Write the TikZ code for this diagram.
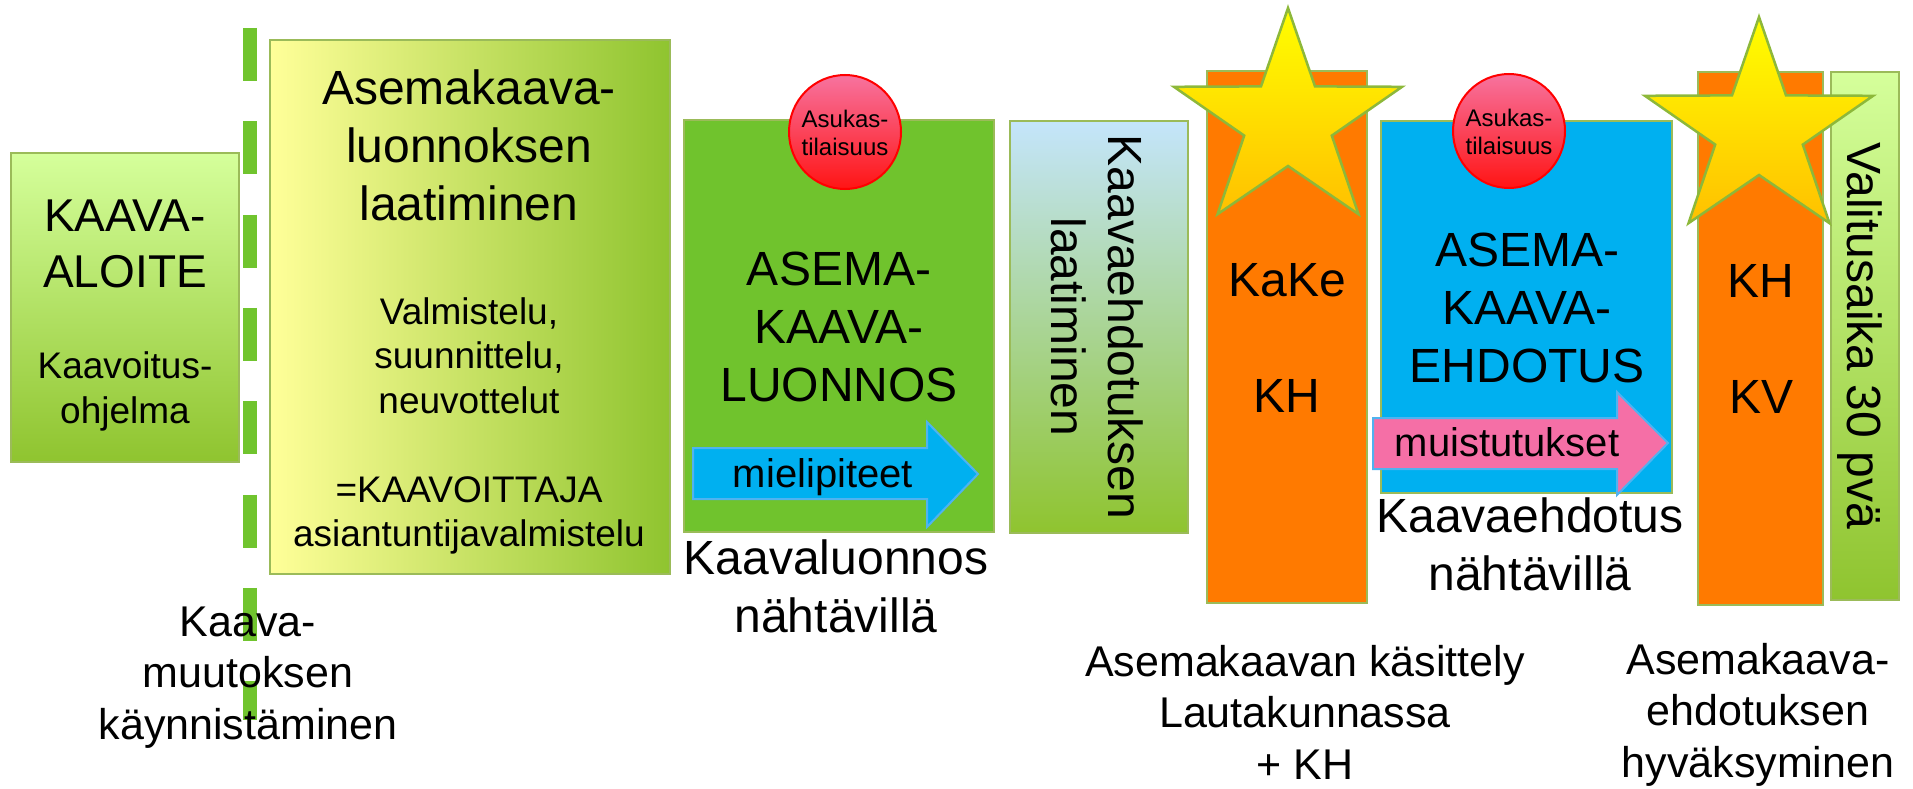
\documentclass[tikz,border=0pt]{standalone}
\usepackage{fontspec}
\setmainfont{Liberation Sans}
\usetikzlibrary{shapes.geometric}
\definecolor{bord}{HTML}{9BBB59}
\definecolor{dashgreen}{HTML}{70C42E}
\definecolor{boxgreen}{HTML}{70C32D}
\definecolor{paletop}{HTML}{D5FF9B}
\definecolor{greenbot}{HTML}{8FC42F}
\definecolor{paleyellow}{HTML}{FFFF99}
\definecolor{midyellow}{HTML}{D9E97A}
\definecolor{paleblue}{HTML}{C4E5FB}
\definecolor{orangebox}{HTML}{FF7A00}
\definecolor{bluebox}{HTML}{00B0F0}
\definecolor{arrowline}{HTML}{4FB3F0}
\definecolor{pinkarrow}{HTML}{F56FA6}
\definecolor{elltop}{HTML}{F7739F}
\definecolor{ellbot}{HTML}{FF1414}
\definecolor{ellline}{HTML}{FF0000}
\definecolor{startop}{HTML}{FFFF00}
\definecolor{starbot}{HTML}{FFC000}
\definecolor{starline}{HTML}{8DB83A}
\begin{document}
\begin{tikzpicture}[x=1pt,y=-1pt,
  box/.style={draw=bord, line width=2pt, inner sep=0pt, outer sep=0pt},
  ell/.style={ellipse, draw=ellline, line width=2pt, top color=elltop, bottom color=ellbot, inner sep=0pt, outer sep=0pt},
  starsty/.style={draw=starline, line width=2.5pt, line join=miter, top color=startop, bottom color=starbot},
  arrowsty/.style={draw=arrowline, line width=2pt, line join=miter},
  txt/.style={inner sep=0pt, outer sep=0pt, align=center, anchor=base, text=black},
  big/.style={font=\fontsize{48}{57.6}\selectfont},
  bigb/.style={font=\fontsize{46}{56}\selectfont},
  mid/.style={font=\fontsize{43}{51.5}\selectfont},
  arr/.style={font=\fontsize{40}{48}\selectfont},
  small/.style={font=\fontsize{37}{44.4}\selectfont},
  tiny/.style={font=\fontsize{24}{28}\selectfont}]
\useasboundingbox (0,0) rectangle (1913,789);

% dashed start line
\coordinate (dtop) at (250,28);
\coordinate (dbot) at (250,720);
\draw[dashgreen, line width=14pt, dash pattern=on 53pt off 40.3pt] (dtop) -- (dbot);

% boxes
\node[box, top color=paletop, bottom color=greenbot, minimum width=228pt, minimum height=309pt] (b1) at (125,307.5) {};
\node[box, left color=paleyellow, middle color=midyellow, right color=greenbot, minimum width=400pt, minimum height=534pt] (b2) at (470,307) {};
\node[box, fill=boxgreen, minimum width=310pt, minimum height=412pt] (b3) at (839,326) {};
\node[box, top color=paleblue, bottom color=greenbot, minimum width=178pt, minimum height=412pt] (b4) at (1099,327) {};
\node[box, fill=orangebox, minimum width=160pt, minimum height=532pt] (b5) at (1287,337) {};
\node[box, fill=bluebox, minimum width=291pt, minimum height=372pt] (b6) at (1526.5,307) {};
\node[box, fill=orangebox, minimum width=125pt, minimum height=533pt] (b7) at (1760.5,338.5) {};
\node[box, top color=paletop, bottom color=greenbot, minimum width=68pt, minimum height=528pt] (b8) at (1865,336) {};

% stars
\begin{scope}[shift={(1288,122)}]
\path[starsty] (0,-114) -- (-27,-35.6) -- (-114.1,-35.2) -- (-43.8,13.6) -- (-70.5,92.2) -- (0,44) -- (70.5,92.2) -- (43.8,13.6) -- (114.1,-35.2) -- (27,-35.6) -- cycle;
\end{scope}
\begin{scope}[shift={(1759,131)}]
\path[starsty] (0,-114) -- (-27,-35.6) -- (-114.1,-35.2) -- (-43.8,13.6) -- (-70.5,92.2) -- (0,44) -- (70.5,92.2) -- (43.8,13.6) -- (114.1,-35.2) -- (27,-35.6) -- cycle;
\end{scope}

% ellipses
\node[ell, minimum width=112pt, minimum height=114pt] (e1) at (845,132) {};
\node[ell, minimum width=112pt, minimum height=114pt] (e2) at (1509,131) {};

% arrows
\path[arrowsty, fill=bluebox] (693,448) -- (927,448) -- (927,422) -- (978,474) -- (927,527) -- (927,499) -- (693,499) -- cycle;
\path[arrowsty, fill=pinkarrow] (1373,418) -- (1617,418) -- (1617,392) -- (1668,443) -- (1617,495) -- (1617,469) -- (1373,469) -- cycle;

% texts (anchor = baseline of the last line)
\node[txt, bigb] (t1a) at (125,287) {KAAVA-\\ALOITE};
\node[txt, small] (t1b) at (125,423) {Kaavoitus-\\ohjelma};
\node[txt, big] (t2a) at (469,220) {Asemakaava-\\luonnoksen\\laatiminen};
\node[txt, small] (t2b) at (469,546.5) {Valmistelu,\\suunnittelu,\\neuvottelut\\[44.4pt]=KAAVOITTAJA\\asiantuntijavalmistelu};
\node[txt, mid] (t0) at (248,739) {Kaava-\\muutoksen\\käynnistäminen};

\node[txt, tiny] (te1) at (845,155) {Asukas-\\tilaisuus};
\node[txt, big] (t3) at (839,401) {ASEMA-\\KAAVA-\\LUONNOS};
\node[txt, arr] (ta1) at (823,487) {mielipiteet};
\node[txt, big] (t3b) at (836,632) {Kaavaluonnos\\nähtävillä};

\node[txt, big, rotate=-90] (t4) at (1051,327) {Kaavaehdotuksen\\laatiminen};

\node[txt, big] (t5) at (1287,412) {KaKe\\[57.6pt]KH};
\node[txt, mid] (t5b) at (1305,779) {Asemakaavan käsittely\\Lautakunnassa\\+ KH};

\node[txt, tiny] (te2) at (1509,154) {Asukas-\\tilaisuus};
\node[txt, big] (t6) at (1527,382) {ASEMA-\\KAAVA-\\EHDOTUS};
\node[txt, arr] (ta2) at (1507,456) {muistutukset};
\node[txt, big] (t6b) at (1530,590) {Kaavaehdotus\\nähtävillä};

\node[txt, big] (t7) at (1761,413) {KH\\[57.6pt]KV};
\node[txt, mid] (t7b) at (1758,777) {Asemakaava-\\ehdotuksen\\hyväksyminen};

\node[txt, big, rotate=-90] (t8) at (1847,336) {Valitusaika 30 pvä};
\end{tikzpicture}
\end{document}
